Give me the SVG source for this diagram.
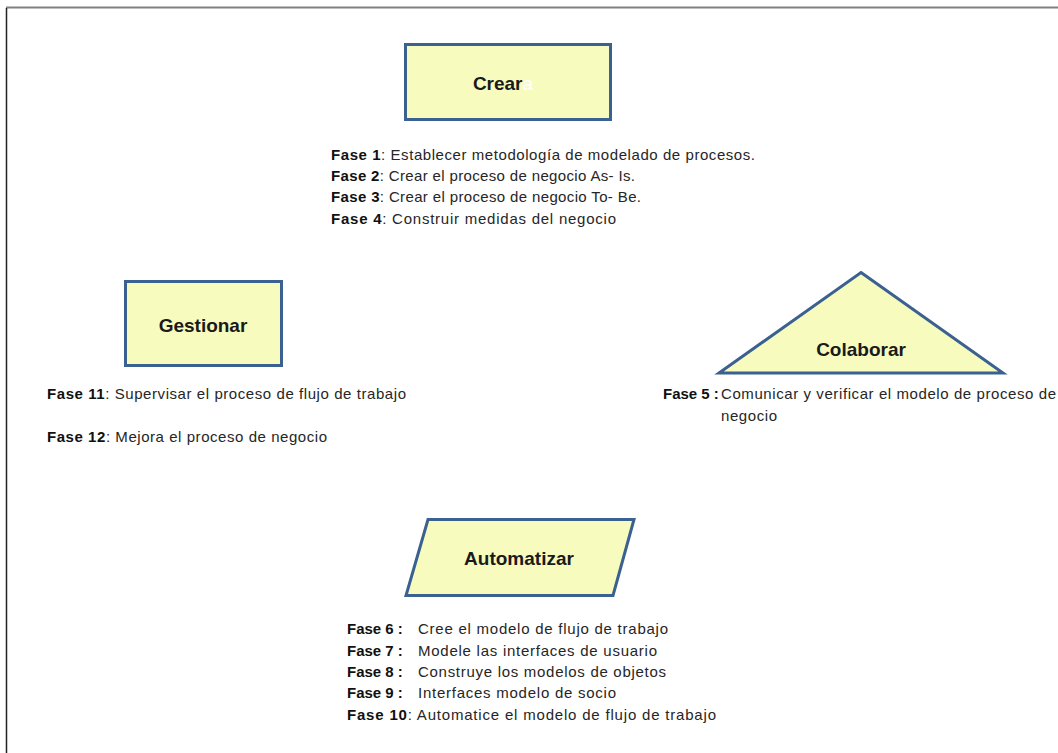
<svg xmlns="http://www.w3.org/2000/svg" width="1058" height="753" viewBox="0 0 1058 753">
  <style>
    .shape { fill: #f7fbbe; stroke: #3b6190; stroke-width: 3; stroke-linejoin: miter; }
    .title { font-family: "Liberation Sans", Arial, sans-serif; font-size: 19px; font-weight: bold; fill: #1a1a1a; text-anchor: middle; }
    .txt { font-family: "Liberation Sans", Arial, sans-serif; font-size: 15px; fill: #262626; }
    .b { font-weight: bold; fill: #111; }
  </style>
  <rect width="1058" height="753" fill="#ffffff"/>
  <!-- page frame -->
  <line x1="6" y1="7.5" x2="1058" y2="7.5" stroke="#808080" stroke-width="2"/>
  <line x1="6.5" y1="8" x2="6.5" y2="753" stroke="#222" stroke-width="1.5"/>

  <g id="crear">
    <rect class="shape" x="405.5" y="44.5" width="205" height="75"/>
    <text class="title" x="503" y="90">Crear<tspan fill="#ffffff" font-weight="normal">a</tspan></text>
    <text class="txt" x="331" y="160" textLength="424" lengthAdjust="spacing"><tspan class="b">Fase 1</tspan>: Establecer metodología de modelado de procesos.</text>
    <text class="txt" x="331" y="181" textLength="304" lengthAdjust="spacing"><tspan class="b">Fase 2</tspan>: Crear el proceso de negocio As- Is.</text>
    <text class="txt" x="331" y="202" textLength="310" lengthAdjust="spacing"><tspan class="b">Fase 3</tspan>: Crear el proceso de negocio To- Be.</text>
    <text class="txt" x="331" y="224" textLength="285" lengthAdjust="spacing"><tspan class="b">Fase 4</tspan>:  Construir medidas  del negocio</text>
  </g>

  <g id="gestionar">
    <rect class="shape" x="125.5" y="281.5" width="156" height="84"/>
    <text class="title" x="203" y="332">Gestionar</text>
    <text class="txt" x="47" y="399" textLength="359" lengthAdjust="spacing"><tspan class="b">Fase 11</tspan>: Supervisar el proceso de flujo de trabajo</text>
    <text class="txt" x="47" y="442" textLength="280" lengthAdjust="spacing"><tspan class="b">Fase 12</tspan>: Mejora el proceso de negocio</text>
  </g>

  <g id="colaborar">
    <polygon class="shape" points="861,272.5 1003,373 719,373"/>
    <text class="title" x="861" y="356">Colaborar</text>
    <text class="txt" x="663" y="399"><tspan class="b">Fase 5 :</tspan></text>
    <text class="txt" x="721" y="399" textLength="335" lengthAdjust="spacing">Comunicar y verificar el modelo de proceso de</text>
    <text class="txt" x="721" y="421" textLength="56" lengthAdjust="spacing">negocio</text>
  </g>

  <g id="automatizar">
    <polygon class="shape" points="428,519.5 634,519.5 613,595.5 406,595.5"/>
    <text class="title" x="519" y="565">Automatizar</text>
    <text class="txt" x="347" y="634"><tspan class="b">Fase 6 :</tspan></text>
    <text class="txt" x="418" y="634" textLength="250" lengthAdjust="spacing">Cree el modelo de flujo de trabajo</text>
    <text class="txt" x="347" y="656"><tspan class="b">Fase 7 :</tspan></text>
    <text class="txt" x="418" y="656" textLength="239" lengthAdjust="spacing">Modele las interfaces de usuario</text>
    <text class="txt" x="347" y="677"><tspan class="b">Fase 8 :</tspan></text>
    <text class="txt" x="418" y="677" textLength="248" lengthAdjust="spacing">Construye los modelos de objetos</text>
    <text class="txt" x="347" y="698"><tspan class="b">Fase 9 :</tspan></text>
    <text class="txt" x="418" y="698" textLength="198" lengthAdjust="spacing">Interfaces modelo de socio</text>
    <text class="txt" x="347" y="720" textLength="369" lengthAdjust="spacing"><tspan class="b">Fase 10</tspan>:  Automatice el modelo de flujo de trabajo</text>
  </g>

  <g id="connectors"></g>
</svg>
